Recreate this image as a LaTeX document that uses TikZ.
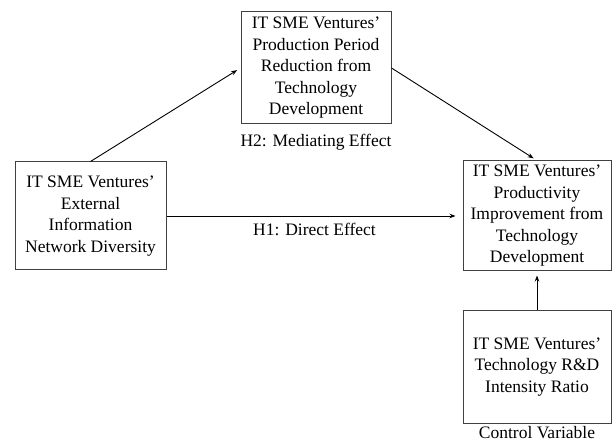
\documentclass[tikz,border=0pt]{standalone}
\usepackage{fontspec}
\setmainfont{Liberation Serif}
\usetikzlibrary{arrows.meta,positioning}

\begin{document}
\begin{tikzpicture}[x=1pt,y=-1pt,node distance=7pt,
  varbox/.style={draw=black!75,line width=1pt,align=center,minimum width=150pt,minimum height=110pt,inner sep=2pt,font=\fontsize{17.5}{21.5}\selectfont},
  effect/.style={-{Stealth[length=6pt,width=4.5pt]},line width=0.9pt,shorten >=4pt},
  tag/.style={font=\fontsize{17.5}{21.5}\selectfont,inner sep=2pt}]
\useasboundingbox (0,0) rectangle (613,443);
\node[varbox,minimum width=151pt,minimum height=108pt] (ext) at (90.5,216) {IT SME Ventures’\\External\\Information\\Network Diversity};
\node[varbox,minimum height=112pt] (period) at (316,68) {IT SME Ventures’\\Production Period\\Reduction from\\Technology\\Development};
\node[varbox,minimum width=148pt] (prod) at (537,216) {IT SME Ventures’\\Productivity\\Improvement from\\Technology\\Development};
\node[varbox,minimum width=148pt,minimum height=112pt] (rnd) at (537,367) {IT SME Ventures’\\Technology R\&D\\Intensity Ratio};
\node[tag,below=7pt of period] (h2) {H2: Mediating Effect};
\node[tag,below=1pt of rnd] (ctrl) {Control Variable};
\draw[effect] (ext.north) -- (period.west);
\draw[effect] (period.east) -- (prod.north);
\draw[effect,shorten >=7pt] (ext.east) -- node[tag,midway,below=5pt] (h1) {H1: Direct Effect} (prod.west);
\draw[effect] (rnd.north) -- (prod.south);
\end{tikzpicture}
\end{document}
